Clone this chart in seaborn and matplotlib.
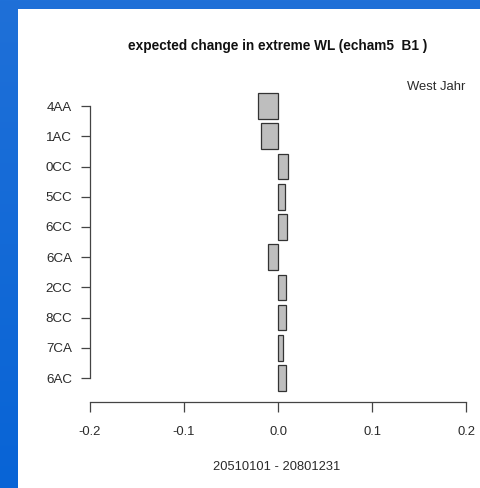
import matplotlib
matplotlib.use("Agg")
import matplotlib.pyplot as plt
import seaborn as sns
import pandas as pd
import numpy as np
from matplotlib.patches import Rectangle
from matplotlib.colors import LinearSegmentedColormap

stations = ["4AA", "1AC", "0CC", "5CC", "6CC", "6CA", "2CC", "8CC", "7CA", "6AC"]
change = [-0.0213, -0.0185, 0.0106, 0.0075, 0.0099, -0.0110, 0.0085, 0.0085, 0.0057, 0.0085]
xticks = [-0.2, -0.1, 0.0, 0.1, 0.2]
xticklabels = ["-0.2", "-0.1", "0.0", "0.1", "0.2"]
title = "expected change in extreme WL (echam5  B1 )"
subtitle = "West Jahr"
xlabel = "20510101 - 20801231"

sns.set_style("ticks")
plt.rcParams['font.family'] = ['Liberation Sans', 'DejaVu Sans']

W, H = 481, 488
fig = plt.figure(figsize=(W / 100, H / 100), dpi=100)

# background: blue frame with white panel
bg = fig.add_axes([0, 0, 1, 1], zorder=-10)
grad = np.linspace(0, 1, 256).reshape(-1, 1)
cmap = LinearSegmentedColormap.from_list("bg", ["#1f70d8", "#0864d6"])
bg.imshow(grad, aspect='auto', cmap=cmap, extent=[0, 1, 0, 1], origin='upper')
bg.add_patch(Rectangle((18 / W, 0), 1, (H - 9) / H, transform=bg.transAxes,
                       facecolor='white', edgecolor='none'))
bg.set_xlim(0, 1)
bg.set_ylim(0, 1)
bg.axis('off')

ax = fig.add_axes([90 / W, (H - 402) / H, (466 - 90) / W, (402 - 91) / H])
ax.patch.set_alpha(0)
df = pd.DataFrame({"station": stations, "change": change})
sns.barplot(data=df, x="change", y="station", order=stations, orient='h',
            color="#bebebe", saturation=1, width=0.85,
            edgecolor="#333333", linewidth=0.9, ax=ax)
ax.set_xlim(-0.2, 0.2)
ax.set_ylim(9.794, -0.5)
for s in ["top", "right"]:
    ax.spines[s].set_visible(False)
ax.spines["left"].set_bounds(0, 9)
ax.spines["bottom"].set_bounds(-0.2, 0.2)
for s in ["left", "bottom"]:
    ax.spines[s].set_color("#444444")
    ax.spines[s].set_linewidth(0.9)
ax.set_xticks(xticks, xticklabels)
ax.set_xlabel("")
ax.set_ylabel("")
ax.tick_params(axis='y', length=6.5, width=0.9, color="#444444", pad=6.5,
               labelsize=9.6, labelcolor="#2a2a2a")
ax.tick_params(axis='x', length=7, width=0.9, color="#444444", pad=10.5,
               labelsize=9.4, labelcolor="#2a2a2a")

fig.text(278 / W, 1 - 46 / H, title, ha='center', va='center',
         fontweight='bold', fontsize=9.8, color="#111111")
fig.text(465 / W, 1 - 87 / H, subtitle, ha='right', va='center',
         fontsize=9.4, color="#2a2a2a")
fig.text(277 / W, 1 - 467 / H, xlabel, ha='center', va='center',
         fontsize=9.3, color="#2a2a2a")

fig.savefig("out.png", dpi=100)
